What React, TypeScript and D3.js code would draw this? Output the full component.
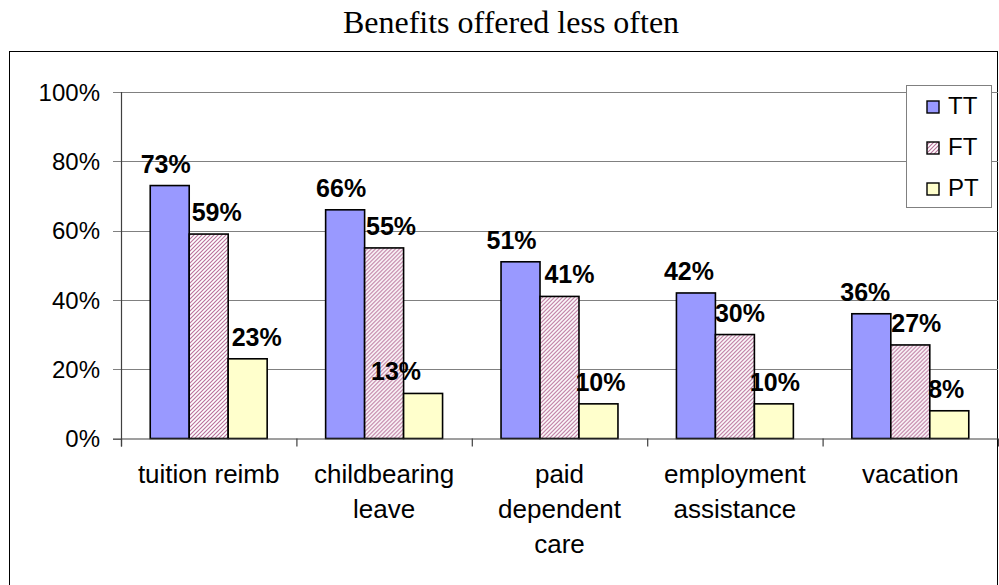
import React from "react";
import * as d3 from "d3";

const title = "Benefits offered less often";
const categories = [
  "tuition reimb",
  "childbearing\nleave",
  "paid\ndependent\ncare",
  "employment\nassistance",
  "vacation",
];
const seriesNames = ["TT", "FT", "PT"];
const ttValues = [0.73, 0.66, 0.51, 0.42, 0.36];
const ftValues = [0.59, 0.55, 0.41, 0.3, 0.27];
const ptValues = [0.23, 0.13, 0.1, 0.1, 0.08];
const yTicks = [0, 0.2, 0.4, 0.6, 0.8, 1.0];

const W = 999;
const H = 585;
const plotLeft = 121;
const plotRight = 998;
const plotTop = 92;
const plotBottom = 438.5;

// small hand-placement nudges for data labels (layout only)
const LABEL_NUDGE = [
  [-4, -4, -9, -7, -6],
  [8, 7, 10, 5, 6],
  [9, -27, 2, 1, -3],
];

export default function App() {
  const values = [ttValues, ftValues, ptValues];
  const x0 = d3.scaleBand<string>().domain(categories).range([plotLeft, plotRight]).paddingInner(0).paddingOuter(0);
  const bw = x0.bandwidth();
  const x1 = d3.scaleBand<string>().domain(seriesNames).range([bw / 6, (bw * 5) / 6]).padding(0);
  const y = d3.scaleLinear().domain([0, 1]).range([plotBottom, plotTop]);
  const fmt = d3.format(".0%");

  const fills = ["#9999FF", "url(#hatchFT)", "#FFFFCC"];
  const axisColor = "#808080";
  const font = "Arial, 'Liberation Sans', Helvetica, sans-serif";

  const catBoundaries = [...categories.map((c) => x0(c) as number), plotRight];

  return (
    <svg width={W} height={H} style={{ position: "absolute", left: 0, top: 0, background: "#fff" }}>
      <defs>
        <pattern id="hatchFT" patternUnits="userSpaceOnUse" width="4" height="4">
          <rect width="4" height="4" fill="#ffffff" />
          <path d="M-1,1 l2,-2 M0,4 l4,-4 M3,5 l2,-2" stroke="#b8709a" strokeWidth="1.1" />
        </pattern>
      </defs>
      <rect x={0} y={0} width={W} height={H} fill="#fff" />
      {/* outer frame */}
      <rect x={9.5} y={51.5} width={988} height={560} fill="none" stroke="#000" strokeWidth={1} />
      {/* title */}
      <text x={511} y={33} textAnchor="middle" fontFamily="'Times New Roman', 'Liberation Serif', serif" fontSize={32} fill="#000">
        {title}
      </text>
      {/* gridlines */}
      {yTicks.map((t) => (
        <g key={t}>
          {t > 0 && (
            <line x1={plotLeft} x2={plotRight} y1={Math.round(y(t)) + 0.5} y2={Math.round(y(t)) + 0.5} stroke={axisColor} strokeWidth={1} />
          )}
          <line x1={plotLeft - 8} x2={plotLeft} y1={Math.round(y(t)) + 0.5} y2={Math.round(y(t)) + 0.5} stroke={axisColor} strokeWidth={1} />
          <text x={100} y={y(t)} dy="0.36em" textAnchor="end" fontFamily={font} fontSize={24} fill="#000">
            {fmt(t)}
          </text>
        </g>
      ))}
      {/* bars */}
      {categories.map((c, ci) => (
        <g key={c} transform={`translate(${x0(c)},0)`}>
          {seriesNames.map((s, si) => {
            const v = values[si][ci];
            const bx = x1(s) as number;
            return (
              <rect
                key={s}
                x={bx}
                y={y(v)}
                width={x1.bandwidth()}
                height={plotBottom - y(v)}
                fill={fills[si]}
                stroke="#000"
                strokeWidth={1.6}
              />
            );
          })}
        </g>
      ))}
      {/* axes lines */}
      <line x1={plotLeft + 0.5} x2={plotLeft + 0.5} y1={plotTop} y2={plotBottom + 8} stroke="#404040" strokeWidth={1.2} />
      <line x1={plotLeft - 8} x2={plotRight} y1={plotBottom + 0.5} y2={plotBottom + 0.5} stroke="#404040" strokeWidth={1.2} />
      {catBoundaries.map((bx, i) => (
        <line key={i} x1={bx + 0.5} x2={bx + 0.5} y1={plotBottom} y2={plotBottom + 8} stroke="#404040" strokeWidth={1.2} />
      ))}
      {/* data labels */}
      {categories.map((c, ci) =>
        seriesNames.map((s, si) => {
          const v = values[si][ci];
          const cx = (x0(c) as number) + (x1(s) as number) + x1.bandwidth() / 2 + LABEL_NUDGE[si][ci];
          return (
            <text key={c + s} x={cx} y={y(v) - 13} textAnchor="middle" fontFamily={font} fontWeight="bold" fontSize={25} fill="#000">
              {fmt(v)}
            </text>
          );
        })
      )}
      {/* category labels */}
      {categories.map((c) => {
        const cx = (x0(c) as number) + bw / 2;
        return (
          <text key={c} x={cx} y={483} textAnchor="middle" fontFamily={font} fontSize={26} fill="#000">
            {c.split("\n").map((line, li) => (
              <tspan key={li} x={cx} dy={li === 0 ? 0 : 35}>
                {line}
              </tspan>
            ))}
          </text>
        );
      })}
      {/* legend */}
      <g>
        <rect x={906.5} y={85.5} width={85} height={122} fill="#fff" stroke="#808080" strokeWidth={1} />
        {seriesNames.map((s, si) => {
          const cy = 107 + si * 41;
          return (
            <g key={s}>
              <rect x={927} y={cy - 6} width={12} height={12} fill={fills[si]} stroke="#000" strokeWidth={1.4} />
              <text x={948} y={cy} dy="0.3em" fontFamily={font} fontSize={24} fill="#000">
                {s}
              </text>
            </g>
          );
        })}
      </g>
    </svg>
  );
}
